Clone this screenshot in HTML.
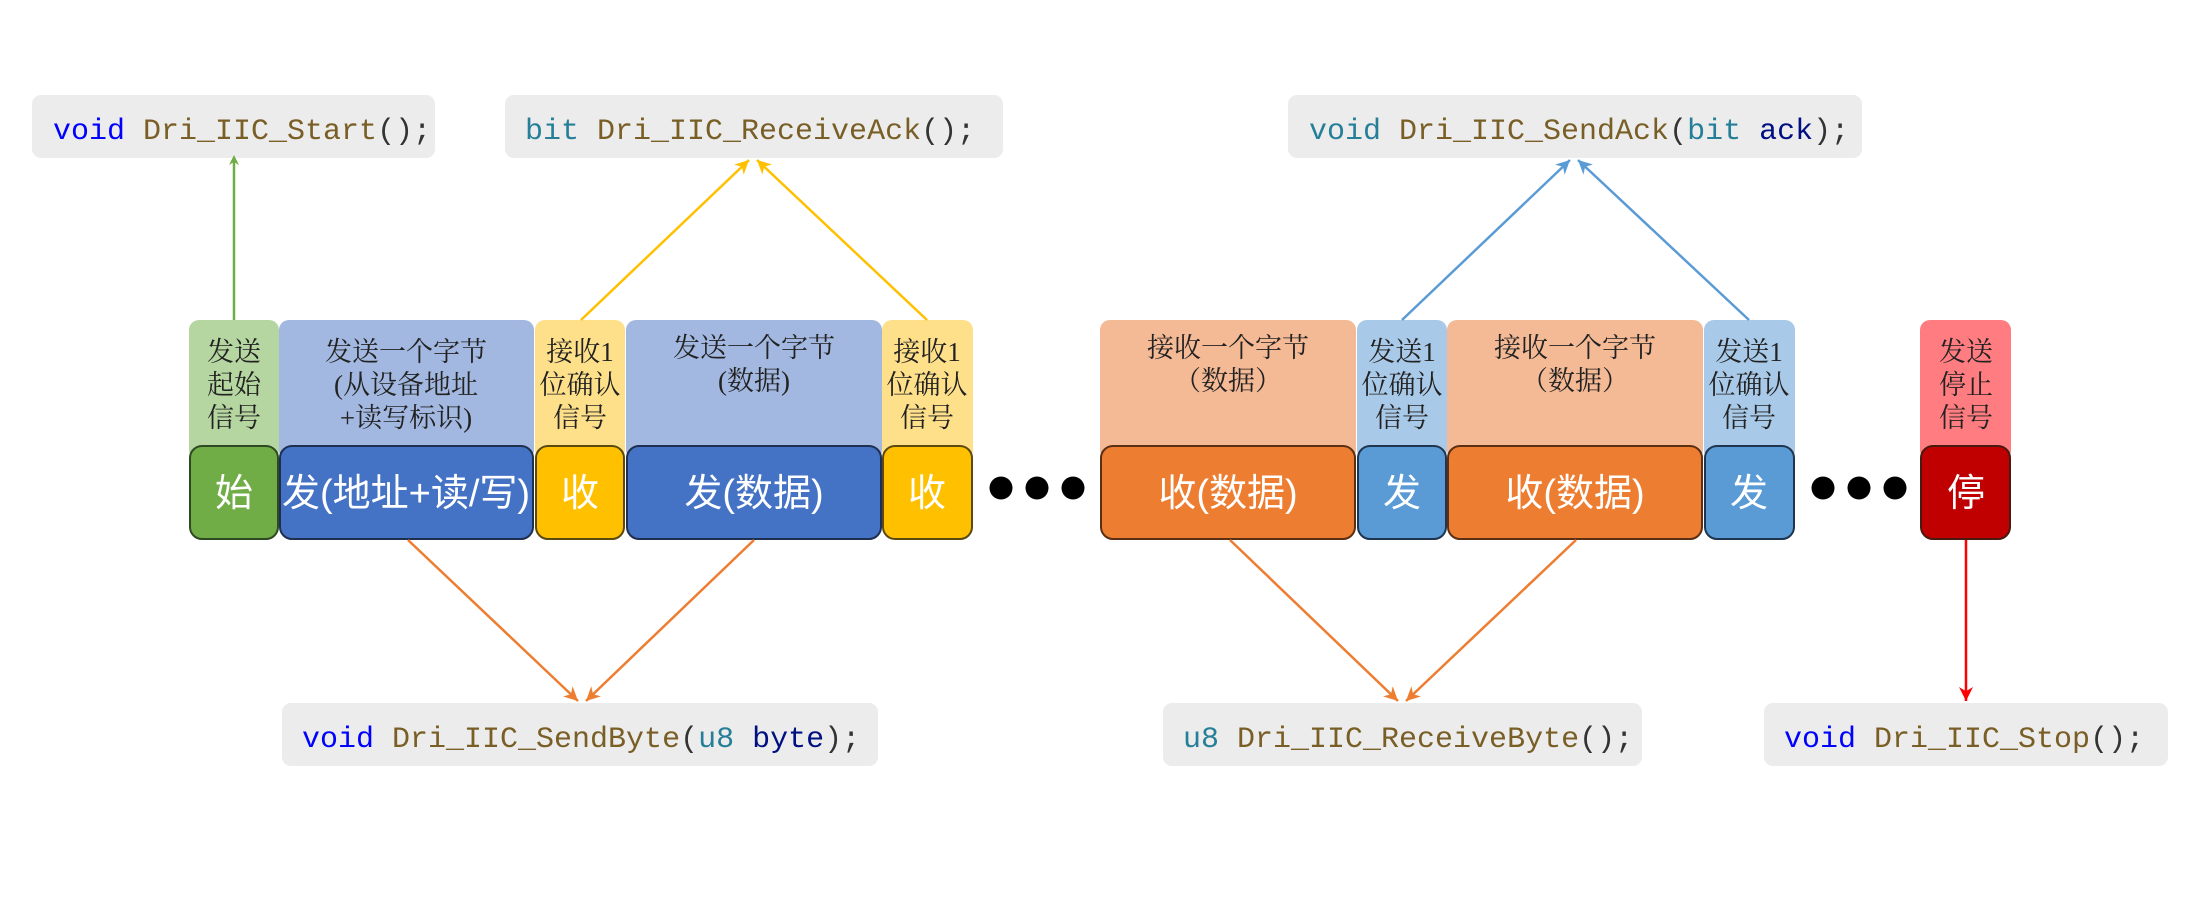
<!DOCTYPE html>
<html><head><meta charset="utf-8"><style>
html,body{margin:0;padding:0;background:#fff;}
svg{display:block}
.code{font-family:"Liberation Mono",monospace;font-size:30px;}
.lbl{font-family:"Liberation Serif","Noto Serif CJK SC",serif;font-size:27px;fill:#222;text-anchor:middle;}
.blk{font-family:"Liberation Sans","Noto Sans CJK SC",sans-serif;font-size:38px;fill:#fff;text-anchor:middle;}
</style></head><body>
<svg width="2200" height="906" viewBox="0 0 2200 906" xmlns="http://www.w3.org/2000/svg">
<defs>
<marker id="ag" markerWidth="10" markerHeight="10" refX="5" refY="5" orient="auto" markerUnits="userSpaceOnUse" viewBox="0 0 10 10"><path d="M0,0 L10,5 L0,10 L3,5 z" fill="#70ad47"/></marker>
<marker id="ay" markerWidth="14" markerHeight="14" refX="10" refY="5" orient="auto" markerUnits="userSpaceOnUse" viewBox="0 0 10 10"><path d="M0,0 L10,5 L0,10 L3,5 z" fill="#ffc000"/></marker>
<marker id="ab" markerWidth="14" markerHeight="14" refX="10" refY="5" orient="auto" markerUnits="userSpaceOnUse" viewBox="0 0 10 10"><path d="M0,0 L10,5 L0,10 L3,5 z" fill="#5b9bd5"/></marker>
<marker id="ao" markerWidth="14" markerHeight="14" refX="10" refY="5" orient="auto" markerUnits="userSpaceOnUse" viewBox="0 0 10 10"><path d="M0,0 L10,5 L0,10 L3,5 z" fill="#ed7d31"/></marker>
<marker id="ar" markerWidth="14" markerHeight="14" refX="10" refY="5" orient="auto" markerUnits="userSpaceOnUse" viewBox="0 0 10 10"><path d="M0,0 L10,5 L0,10 L3,5 z" fill="#ff0000"/></marker>
</defs>

<!-- code boxes -->
<rect x="32" y="95" width="403" height="63" rx="9" fill="#ececec"/>
<text class="code" x="53" y="139"><tspan fill="#0000ff">void</tspan><tspan fill="#795e26"> Dri_IIC_Start</tspan><tspan fill="#333">();</tspan></text>
<rect x="505" y="95" width="498" height="63" rx="9" fill="#ececec"/>
<text class="code" x="525" y="139"><tspan fill="#267f99">bit</tspan><tspan fill="#795e26"> Dri_IIC_ReceiveAck</tspan><tspan fill="#333">();</tspan></text>
<rect x="1288" y="95" width="574" height="63" rx="9" fill="#ececec"/>
<text class="code" x="1309" y="139"><tspan fill="#267f99">void</tspan><tspan fill="#795e26"> Dri_IIC_SendAck</tspan><tspan fill="#333">(</tspan><tspan fill="#267f99">bit</tspan><tspan fill="#001080"> ack</tspan><tspan fill="#333">);</tspan></text>
<rect x="282" y="703" width="596" height="63" rx="9" fill="#ececec"/>
<text class="code" x="302" y="747"><tspan fill="#0000ff">void</tspan><tspan fill="#795e26"> Dri_IIC_SendByte</tspan><tspan fill="#333">(</tspan><tspan fill="#267f99">u8</tspan><tspan fill="#001080"> byte</tspan><tspan fill="#333">);</tspan></text>
<rect x="1163" y="703" width="479" height="63" rx="9" fill="#ececec"/>
<text class="code" x="1183" y="747"><tspan fill="#267f99">u8</tspan><tspan fill="#795e26"> Dri_IIC_ReceiveByte</tspan><tspan fill="#333">();</tspan></text>
<rect x="1764" y="703" width="404" height="63" rx="9" fill="#ececec"/>
<text class="code" x="1784" y="747"><tspan fill="#0000ff">void</tspan><tspan fill="#795e26"> Dri_IIC_Stop</tspan><tspan fill="#333">();</tspan></text>

<!-- label boxes -->
<g>
<rect x="189" y="320" width="90" height="140" rx="10" fill="#b5d6a0"/>
<rect x="279" y="320" width="255" height="140" rx="10" fill="#a2b8e0"/>
<rect x="535" y="320" width="90" height="140" rx="10" fill="#ffe08a"/>
<rect x="626" y="320" width="256" height="140" rx="10" fill="#a2b8e0"/>
<rect x="882" y="320" width="91" height="140" rx="10" fill="#ffe08a"/>
<rect x="1100" y="320" width="256" height="140" rx="10" fill="#f4b995"/>
<rect x="1357" y="320" width="90" height="140" rx="10" fill="#a9c9e8"/>
<rect x="1447" y="320" width="256" height="140" rx="10" fill="#f4b995"/>
<rect x="1704" y="320" width="91" height="140" rx="10" fill="#a9c9e8"/>
<rect x="1920" y="320" width="91" height="140" rx="10" fill="#ff7c80"/>
</g>
<g class="lbl">
<text class="lbl" x="234" y="361">发送</text><text class="lbl" x="234" y="394">起始</text><text class="lbl" x="234" y="427">信号</text>
<text class="lbl" x="406" y="361">发送一个字节</text><text class="lbl" x="406" y="394">(从设备地址</text><text class="lbl" x="406" y="427">+读写标识)</text>
<text class="lbl" x="580" y="361">接收1</text><text class="lbl" x="580" y="394">位确认</text><text class="lbl" x="580" y="427">信号</text>
<text class="lbl" x="754" y="357">发送一个字节</text><text class="lbl" x="754" y="390">(数据)</text>
<text class="lbl" x="927" y="361">接收1</text><text class="lbl" x="927" y="394">位确认</text><text class="lbl" x="927" y="427">信号</text>
<text class="lbl" x="1228" y="357">接收一个字节</text><text class="lbl" x="1228" y="390">（数据）</text>
<text class="lbl" x="1402" y="361">发送1</text><text class="lbl" x="1402" y="394">位确认</text><text class="lbl" x="1402" y="427">信号</text>
<text class="lbl" x="1575" y="357">接收一个字节</text><text class="lbl" x="1575" y="390">（数据）</text>
<text class="lbl" x="1749" y="361">发送1</text><text class="lbl" x="1749" y="394">位确认</text><text class="lbl" x="1749" y="427">信号</text>
<text class="lbl" x="1966" y="361">发送</text><text class="lbl" x="1966" y="394">停止</text><text class="lbl" x="1966" y="427">信号</text>
</g>

<!-- blocks -->
<g stroke-width="2">
<rect x="190" y="446" width="88" height="93" rx="12" fill="#70ad47" stroke="#2f4a22"/>
<rect x="280" y="446" width="253" height="93" rx="12" fill="#4472c4" stroke="#1f2f4f"/>
<rect x="536" y="446" width="88" height="93" rx="12" fill="#ffc000" stroke="#5a4a10"/>
<rect x="627" y="446" width="254" height="93" rx="12" fill="#4472c4" stroke="#1f2f4f"/>
<rect x="883" y="446" width="89" height="93" rx="12" fill="#ffc000" stroke="#5a4a10"/>
<rect x="1101" y="446" width="254" height="93" rx="12" fill="#ed7d31" stroke="#5a2f14"/>
<rect x="1358" y="446" width="88" height="93" rx="12" fill="#5b9bd5" stroke="#1f3550"/>
<rect x="1448" y="446" width="254" height="93" rx="12" fill="#ed7d31" stroke="#5a2f14"/>
<rect x="1705" y="446" width="89" height="93" rx="12" fill="#5b9bd5" stroke="#1f3550"/>
<rect x="1921" y="446" width="89" height="93" rx="12" fill="#c00000" stroke="#4a1a10"/>
</g>
<g>
<text class="blk" x="234" y="506">始</text>
<text class="blk" x="406" y="506">发(地址+读/写)</text>
<text class="blk" x="580" y="506">收</text>
<text class="blk" x="754" y="506">发(数据)</text>
<text class="blk" x="927" y="506">收</text>
<text class="blk" x="1228" y="506">收(数据)</text>
<text class="blk" x="1402" y="506">发</text>
<text class="blk" x="1575" y="506">收(数据)</text>
<text class="blk" x="1749" y="506">发</text>
<text class="blk" x="1966" y="506">停</text>
</g>

<!-- dots -->
<circle cx="1001" cy="488" r="11.5" fill="#000"/><circle cx="1037" cy="488" r="11.5" fill="#000"/><circle cx="1073" cy="488" r="11.5" fill="#000"/>
<circle cx="1823" cy="488" r="11.5" fill="#000"/><circle cx="1859" cy="488" r="11.5" fill="#000"/><circle cx="1895" cy="488" r="11.5" fill="#000"/>

<!-- arrows -->
<g fill="none" stroke-width="2.5">
<line x1="234" y1="320" x2="234" y2="160" stroke="#70ad47" marker-end="url(#ay)" style="marker-end:url(#ag)"/>
<line x1="581" y1="320" x2="749" y2="160" stroke="#ffc000" marker-end="url(#ay)"/>
<line x1="927" y1="320" x2="757" y2="160" stroke="#ffc000" marker-end="url(#ay)"/>
<line x1="1402" y1="320" x2="1570" y2="160" stroke="#5b9bd5" marker-end="url(#ab)"/>
<line x1="1749" y1="320" x2="1578" y2="160" stroke="#5b9bd5" marker-end="url(#ab)"/>
<line x1="408" y1="540" x2="578" y2="701" stroke="#ed7d31" marker-end="url(#ao)"/>
<line x1="754" y1="540" x2="586" y2="701" stroke="#ed7d31" marker-end="url(#ao)"/>
<line x1="1230" y1="540" x2="1398" y2="701" stroke="#ed7d31" marker-end="url(#ao)"/>
<line x1="1576" y1="540" x2="1406" y2="701" stroke="#ed7d31" marker-end="url(#ao)"/>
<line x1="1966" y1="540" x2="1966" y2="701" stroke="#ff0000" marker-end="url(#ar)"/>
</g>
</svg>
</body></html>
